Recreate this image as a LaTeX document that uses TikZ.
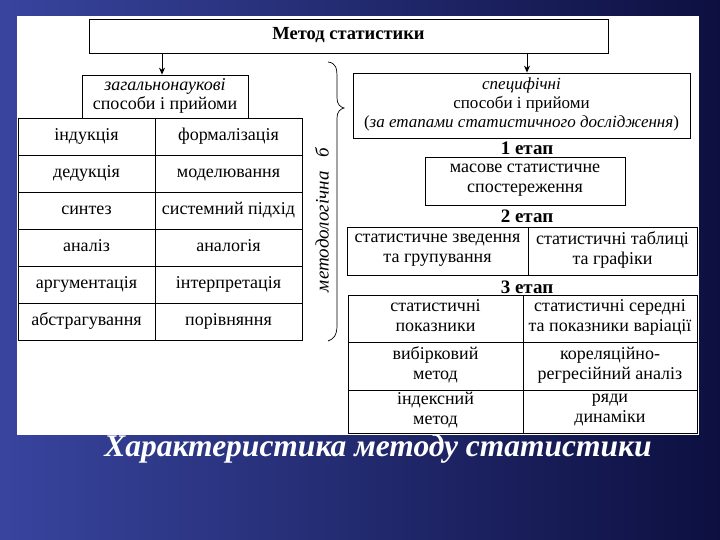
\documentclass[tikz,border=0pt]{standalone}
\usepackage{fontspec}
\setmainfont{Liberation Serif}
\usetikzlibrary{arrows.meta}
\begin{document}
\begin{tikzpicture}[x=1pt,y=-1pt,
  cell/.style={draw,line width=0.8pt,align=center,inner sep=0pt,font=\fontsize{18}{20}\selectfont,
    execute at begin node=\strut,execute at end node=\strut},
  lbl/.style={font=\fontsize{19}{21}\selectfont\bfseries},
  arr/.style={-{Stealth[length=7pt,width=6pt]},line width=0.9pt}]
\useasboundingbox (0,0) rectangle (720,540);
\shade[left color={rgb,1:red,0.22;green,0.27;blue,0.62},right color={rgb,1:red,0.05;green,0.06;blue,0.25}] (0,0) rectangle (720,540);
\fill[white] (17,16) rectangle (699,435);
% title
\node[cell,minimum width=519,minimum height=34,font=\fontsize{18.5}{20}\selectfont\bfseries] (t) at (348.5,36) {Метод статистики};
% left
\node[cell,minimum width=166,minimum height=43,font=\fontsize{18}{19}\selectfont] (g) at (165,96.5) {\textit{загальнонаукові}\\способи і прийоми};
\draw[arr] (162,53) -- (g.north -| 162,0);
\foreach \a/\b [count=\i] in {індукція/формалізація,дедукція/моделювання,синтез/системний підхід,аналіз/аналогія,аргументація/інтерпретація,абстрагування/порівняння}{
  \node[cell,minimum width=137,minimum height=37] (l\i) at (86.5,{118+37*(\i-1)+18.5}) {\a};
  \node[cell,minimum width=147,minimum height=37] (r\i) at (228.5,{118+37*(\i-1)+18.5}) {\b};
}
% brace
\draw[line width=0.7pt] (328,62) .. controls (336,63) and (337,68) .. (337,78) -- (337,98) .. controls (337,104) and (340,107) .. (344,108)
  .. controls (340,109) and (337,112) .. (337,118) -- (337,325) .. controls (337,335) and (334,339) .. (328,341);
\node[rotate=90,font=\fontsize{19}{21}\selectfont\itshape] (m) at (322,220) {методологічна\hspace{14pt}б};
% right
\node[cell,minimum width=337,minimum height=65,font=\fontsize{17}{19}\selectfont] (s) at (521.5,105.5) {\textit{специфічні}\\способи і прийоми\\(\textit{за етапами статистичного дослідження})};
\draw[arr] (527,53) -- (s.north -| 527,0);
\node[lbl] (e1) at (527,148) {1 етап};
\node[cell,minimum width=200,minimum height=48] (ms) at (525,181) {масове статистичне\\спостереження};
\node[lbl] (e2) at (527,216) {2 етап};
\node[cell,minimum width=181,minimum height=48] (z1) at (437.5,251) {статистичне зведення\\та групування};
\node[cell,minimum width=169,minimum height=48] (z2) at (612.5,251) {статистичні таблиці\\та графіки};
\node[lbl] (e3) at (527,287) {3 етап};
\node[cell,minimum width=175,minimum height=47] (a1) at (435.5,318.5) {статистичні\\показники};
\node[cell,minimum width=174,minimum height=47] (b1) at (610,318.5) {статистичні середні\\та показники варіації};
\node[cell,minimum width=175,minimum height=48] (a2) at (435.5,366) {вибірковий\\метод};
\node[cell,minimum width=174,minimum height=48] (b2) at (610,366) {кореляційно-\\регресійний аналіз};
\node[cell,minimum width=175,minimum height=43] (a3) at (435.5,411.5) {індексний\\метод};
\node[cell,minimum width=174,minimum height=43] (b3) at (610,411.5) {ряди\\динаміки};
% caption
\node[text=white,font=\fontsize{31.5}{34}\selectfont\bfseries\itshape] (cap) at (378,449) {Характеристика методу статистики};
\end{tikzpicture}
\end{document}
